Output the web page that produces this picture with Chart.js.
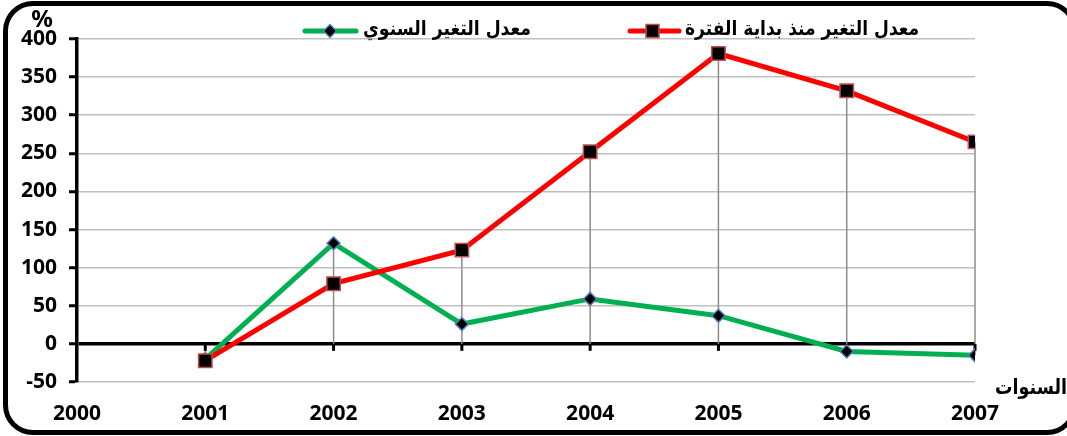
<!DOCTYPE html>
<html>
<head>
<meta charset="utf-8">
<script src="https://cdn.jsdelivr.net/npm/chart.js@4/dist/chart.umd.min.js"></script>
<style>
  body { margin: 0; background: #fff; overflow: hidden; }
  #frame {
    position: absolute; left: 3px; top: 1px; width: 1064px; height: 424px;
    border: 5px solid #000; border-radius: 30px;
  }
  #wrap { position: absolute; left: 0; top: 0; width: 1067px; height: 436px; }
</style>
</head>
<body>
<div id="frame"></div>
<div id="wrap"><canvas id="myChart" width="1067" height="436"></canvas></div>
<script>
const years = [2001, 2002, 2003, 2004, 2005, 2006, 2007];
const sincePeriodStart = [-22, 79, 123, 252, 381, 332, 265];
const annualChange = [-20, 132, 26, 59, 37, -10, -15];
const yTicks = [-50, 0, 50, 100, 150, 200, 250, 300, 350, 400];
const labelSince = "معدل التغير منذ بداية الفترة";
const labelAnnual = "معدل التغير السنوي";

const arFont = "bold 20px 'DejaVu Sans'";

// grey drop lines + little ticks under the zero line
const dropLines = {
  id: "dropLines",
  beforeDatasetsDraw(chart) {
    const { ctx, scales } = chart;
    const x = scales.x, y = scales.y;
    ctx.save();
    ctx.strokeStyle = "#8c8c8c";
    ctx.lineWidth = 1.5;
    years.forEach((yr, i) => {
      const hi = Math.max(sincePeriodStart[i], annualChange[i], 0);
      const lo = Math.min(sincePeriodStart[i], annualChange[i], 0);
      const px = x.getPixelForValue(yr);
      ctx.beginPath();
      ctx.moveTo(px, y.getPixelForValue(hi));
      ctx.lineTo(px, y.getPixelForValue(lo));
      ctx.stroke();
    });
    ctx.fillStyle = "#000";
    years.forEach((yr) => {
      const px = x.getPixelForValue(yr);
      ctx.fillRect(px - 1.5, y.getPixelForValue(0), 3, 7);
    });
    ctx.restore();
  },
};

// legend and axis titles
const extras = {
  id: "extras",
  afterDraw(chart) {
    const { ctx } = chart;
    ctx.save();
    const ly = 31;
    // green item
    ctx.lineCap = "round";
    ctx.strokeStyle = "#00b050";
    ctx.lineWidth = 5;
    ctx.beginPath(); ctx.moveTo(305, ly); ctx.lineTo(356, ly); ctx.stroke();
    ctx.fillStyle = "#000";
    ctx.strokeStyle = "#4f81bd";
    ctx.lineWidth = 1.5;
    ctx.beginPath();
    ctx.moveTo(330, ly - 6.5); ctx.lineTo(336.5, ly); ctx.lineTo(330, ly + 6.5); ctx.lineTo(323.5, ly);
    ctx.closePath(); ctx.fill(); ctx.stroke();
    // red item
    ctx.strokeStyle = "#ff0000";
    ctx.lineWidth = 5;
    ctx.beginPath(); ctx.moveTo(630, ly); ctx.lineTo(679, ly); ctx.stroke();
    ctx.fillStyle = "#000";
    ctx.strokeStyle = "#c0504d";
    ctx.lineWidth = 1.5;
    ctx.fillRect(646, ly - 6.5, 13, 13);
    ctx.strokeRect(646, ly - 6.5, 13, 13);

    ctx.fillStyle = "#000";
    ctx.font = arFont;
    ctx.textBaseline = "middle";
    ctx.textAlign = "left";
    ctx.fillText(labelAnnual, 363, ly - 1, 168);
    ctx.fillText(labelSince, 685, ly - 1, 234);

    ctx.font = "bold 24px 'Noto Sans'";
    ctx.textAlign = "center";
    ctx.fillText("%", 42, 20);
    ctx.font = "bold 21px 'DejaVu Sans'";
    ctx.textAlign = "right";
    ctx.fillText("السنوات", 1067, 389, 72);
    ctx.restore();
  },
};

new Chart("myChart", {
  type: "line",
  data: {
    datasets: [
      {
        label: labelAnnual,
        data: years.map((yr, i) => ({ x: yr, y: annualChange[i] })),
        borderColor: "#00b050",
        borderWidth: 5,
        pointStyle: "rectRot",
        pointRadius: 6.5,
        pointBackgroundColor: "#000",
        pointBorderColor: "#4f81bd",
        pointBorderWidth: 1.5,
        tension: 0,
        order: 2,
      },
      {
        label: labelSince,
        data: years.map((yr, i) => ({ x: yr, y: sincePeriodStart[i] })),
        borderColor: "#ff0000",
        borderWidth: 5,
        pointStyle: "rect",
        pointRadius: 9.5,
        pointBackgroundColor: "#000",
        pointBorderColor: "#c0504d",
        pointBorderWidth: 1.5,
        tension: 0,
        order: 1,
      },
    ],
  },
  options: {
    responsive: false,
    animation: false,
    layout: { padding: { top: 39, right: 92, bottom: 0, left: 0 } },
    plugins: { legend: { display: false }, tooltip: { enabled: false } },
    scales: {
      x: {
        type: "linear",
        min: 2000,
        max: 2007,
        grid: { display: false, drawTicks: false },
        border: { display: false },
        ticks: {
          stepSize: 1,
          padding: 19,
          color: "#000",
          font: { family: "Noto Sans", size: 21, weight: "bold" },
          callback: (v) => String(v),
        },
        afterFit: (s) => { s.height = 54; },
      },
      y: {
        min: -50,
        max: 400,
        afterBuildTicks: (s) => { s.ticks = yTicks.map((v) => ({ value: v })); },
        grid: {
          color: (c) => (c.tick && c.tick.value === 0 ? "#000" : "#c0c0c0"),
          lineWidth: (c) => (c.tick && c.tick.value === 0 ? 3.5 : 1.5),
          tickColor: "#000",
          tickWidth: 3,
          tickLength: 8,
        },
        border: { display: true, color: "#000", width: 3.5 },
        ticks: {
          padding: 12,
          color: "#000",
          font: { family: "Noto Sans", size: 21, weight: "bold" },
        },
        afterFit: (s) => { s.width = 77; },
      },
    },
  },
  plugins: [dropLines, extras],
});
</script>
</body>
</html>
